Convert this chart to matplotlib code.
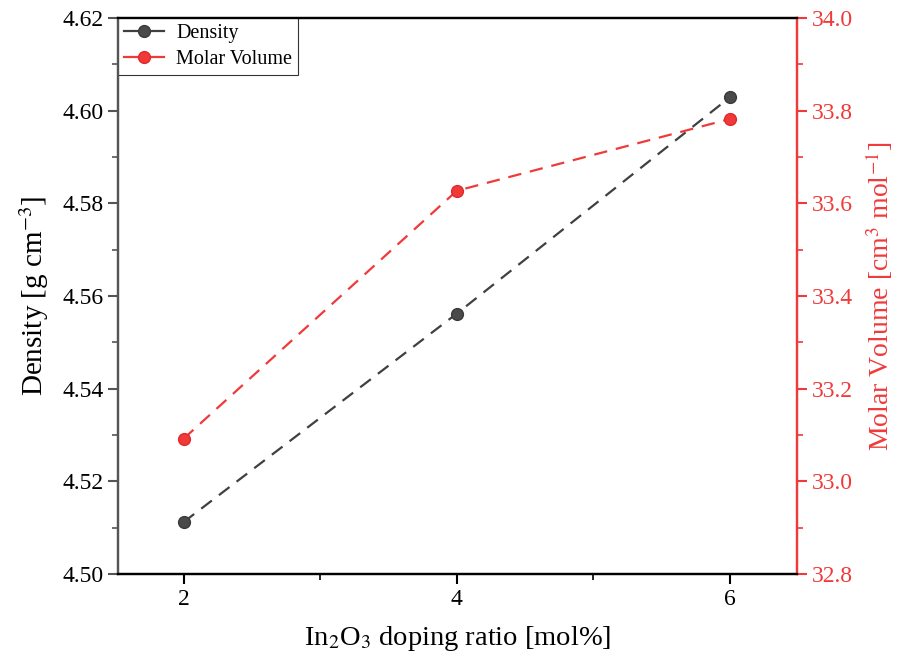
import matplotlib
matplotlib.use("Agg")
import matplotlib.pyplot as plt
from matplotlib.lines import Line2D
from matplotlib.ticker import MultipleLocator

plt.rcParams['font.family'] = ['Liberation Serif', 'DejaVu Serif']
plt.rcParams['mathtext.fontset'] = 'stix'

# In2O3 doping ratio (mol%)
ratio = [2, 4, 6]
density = [4.5112, 4.5562, 4.6029]       # g cm^-3
molar_volume = [33.092, 33.627, 33.782]  # cm^3 mol^-1

red = '#f03a3a'
grey = '#404040'

fig = plt.figure(figsize=(8.98, 6.64), dpi=100)
ax = fig.add_axes([0.1314, 0.1355, 0.7561, 0.8375])
ax2 = ax.twinx()

ax.plot(ratio, density, ls=(0, (6, 4)), color=grey, lw=1.6,
        marker='o', ms=8.5, mfc='#4a4a4a', mec='#3a3a3a')
ax2.plot(ratio, molar_volume, ls=(0, (6, 4)), color=red, lw=1.6,
         marker='o', ms=8.5, mfc=red, mec='#e02a2a')

ax.set_xlim(1.52, 6.49)
ax.set_ylim(4.50, 4.62)
ax2.set_ylim(32.8, 34.0)

ax.xaxis.set_major_locator(MultipleLocator(2))
ax.xaxis.set_minor_locator(MultipleLocator(1))
ax.yaxis.set_major_locator(MultipleLocator(0.02))
ax.yaxis.set_minor_locator(MultipleLocator(0.01))
ax2.yaxis.set_major_locator(MultipleLocator(0.2))
ax2.yaxis.set_minor_locator(MultipleLocator(0.1))
ax.yaxis.set_major_formatter(plt.FormatStrFormatter('%.2f'))
ax2.yaxis.set_major_formatter(plt.FormatStrFormatter('%.1f'))

for a in (ax, ax2):
    for s in a.spines.values():
        s.set_linewidth(1.6)
ax.spines['left'].set_color('#555555')
ax2.spines['left'].set_color('#555555')
ax2.spines['right'].set_color(red)
ax.spines['right'].set_color(red)

ax.tick_params(axis='both', which='major', direction='out', length=7, width=1.5, labelsize=17)
ax.tick_params(axis='both', which='minor', direction='out', length=4, width=1.2)
ax.tick_params(axis='y', which='both', color='#555555')
ax2.tick_params(axis='y', which='major', direction='out', length=7, width=1.5,
                labelsize=17, colors=red)
ax2.tick_params(axis='y', which='minor', direction='out', length=4, width=1.2, colors=red)

ax.set_xlabel(r'In$_2$O$_3$ doping ratio [mol%]', fontsize=20.5, labelpad=10)
ax.set_ylabel(r'Density [g cm$^{-3}$]', fontsize=21, labelpad=8)
ax2.set_ylabel(r'Molar Volume [cm$^3$ mol$^{-1}$]', fontsize=20, color=red, labelpad=8)

# legend keys drawn with solid line segments
handles = [
    Line2D([], [], color=grey, lw=1.6, marker='o', ms=8.5, mfc='#4a4a4a', mec='#3a3a3a'),
    Line2D([], [], color=red, lw=1.6, marker='o', ms=8.5, mfc=red, mec='#e02a2a'),
]
leg = ax.legend(handles, ['Density', 'Molar Volume'], loc='upper left', fontsize=14.5,
                frameon=True, fancybox=False, edgecolor='black', borderaxespad=0.0,
                handlelength=2.0, borderpad=0.3, labelspacing=0.35, handletextpad=0.6)
leg.get_frame().set_linewidth(0.8)

fig.savefig('out.png', dpi=100)
